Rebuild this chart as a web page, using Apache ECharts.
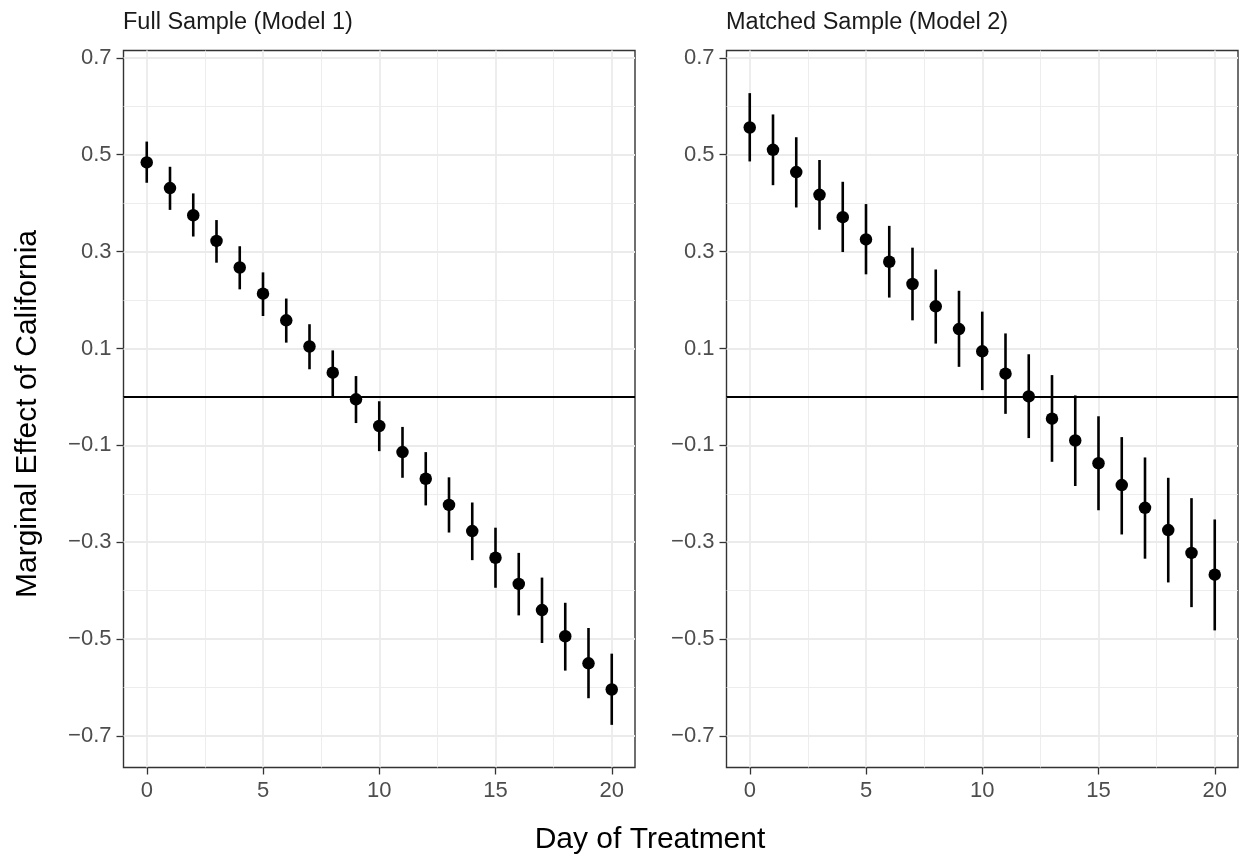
<!DOCTYPE html>
<html><head><meta charset="utf-8">
<script src="https://cdn.jsdelivr.net/npm/echarts@6/dist/echarts.min.js"></script>
<style>html,body{margin:0;padding:0;background:#fff}#c{width:1243px;height:861px}</style>
</head><body><div id="c"></div>
<script>
// ---- data ----
const days = [0,1,2,3,4,5,6,7,8,9,10,11,12,13,14,15,16,17,18,19,20];
const panelTitles = ['Full Sample (Model 1)', 'Matched Sample (Model 2)'];
const fullEst = [0.484,0.431,0.375,0.322,0.267,0.213,0.158,0.104,0.050,-0.005,-0.060,-0.114,-0.169,-0.223,-0.277,-0.332,-0.386,-0.440,-0.494,-0.550,-0.604];
const fullLo  = [0.442,0.386,0.331,0.277,0.222,0.167,0.112,0.057,0.000,-0.054,-0.112,-0.167,-0.224,-0.280,-0.337,-0.394,-0.451,-0.508,-0.565,-0.622,-0.677];
const fullHi  = [0.527,0.475,0.420,0.365,0.311,0.257,0.203,0.150,0.096,0.043,-0.009,-0.062,-0.114,-0.166,-0.218,-0.270,-0.322,-0.373,-0.425,-0.477,-0.530];
const matchEst = [0.556,0.510,0.464,0.417,0.371,0.325,0.279,0.233,0.187,0.140,0.094,0.048,0.001,-0.045,-0.090,-0.137,-0.182,-0.229,-0.275,-0.322,-0.367];
const matchLo  = [0.486,0.437,0.391,0.345,0.299,0.253,0.205,0.158,0.110,0.062,0.014,-0.035,-0.085,-0.134,-0.184,-0.234,-0.284,-0.334,-0.383,-0.434,-0.482];
const matchHi  = [0.627,0.583,0.536,0.489,0.444,0.398,0.353,0.308,0.263,0.219,0.176,0.131,0.088,0.045,0.003,-0.040,-0.083,-0.125,-0.167,-0.209,-0.253];
const xMajor = [0,5,10,15,20];
const xMinor = [2.5,7.5,12.5,17.5];
const yMajor = [-0.7,-0.5,-0.3,-0.1,0.1,0.3,0.5,0.7];
const yMinor = [-0.6,-0.4,-0.2,0,0.2,0.4,0.6];
const xRange = [-1, 21];
const yRange = [-0.765, 0.715];
const refLine = 0;

// ---- chart ----
const FONT = '"Liberation Sans", Arial, Helvetica, sans-serif';
const chart = echarts.init(document.getElementById('c'), null, {renderer:'canvas'});
const grids = [
  {left:123.5, top:50.5, width:511.5, height:717},
  {left:726.5, top:50.5, width:511.5, height:717}
];
function fmtY(v){ const s = Math.abs(v).toFixed(1); return v < 0 ? '\u2212' + s : s; }
const xAxes = [], yAxes = [];
grids.forEach((g, gi) => {
  xAxes.push({type:'value', gridIndex:gi, min:xRange[0], max:xRange[1], position:'bottom',
    axisLine:{show:false, onZero:false},
    axisTick:{show:true, inside:false, customValues:xMajor, length:7, lineStyle:{color:'#333333', width:1.3}},
    axisLabel:{show:true, customValues:xMajor, margin:12, fontSize:22, color:'#4D4D4D', fontFamily:FONT},
    splitLine:{show:true, lineStyle:{color:'#EBEBEB', width:1.8}}, z:2});
  xAxes.push({type:'value', gridIndex:gi, min:xRange[0], max:xRange[1], position:'bottom',
    axisLine:{show:false, onZero:false}, axisTick:{show:false, customValues:xMinor},
    axisLabel:{show:false, customValues:xMinor},
    splitLine:{show:true, lineStyle:{color:'#EBEBEB', width:0.9}}, z:1});
  yAxes.push({type:'value', gridIndex:gi, min:yRange[0], max:yRange[1], position:'left',
    axisLine:{show:false, onZero:false},
    axisTick:{show:true, inside:false, customValues:yMajor, length:7, lineStyle:{color:'#333333', width:1.3}},
    axisLabel:{show:true, customValues:yMajor, margin:12, fontSize:22, color:'#4D4D4D', fontFamily:FONT, formatter:fmtY},
    splitLine:{show:true, lineStyle:{color:'#EBEBEB', width:1.8}}, z:2});
  yAxes.push({type:'value', gridIndex:gi, min:yRange[0], max:yRange[1], position:'left',
    axisLine:{show:false, onZero:false}, axisTick:{show:false, customValues:yMinor},
    axisLabel:{show:false, customValues:yMinor},
    splitLine:{show:true, lineStyle:{color:'#EBEBEB', width:0.9}}, z:1});
});
function errRender(params, api){
  const x = api.value(0);
  const a = api.coord([x, api.value(1)]);
  const b = api.coord([x, api.value(2)]);
  return {type:'line', shape:{x1:a[0], y1:a[1], x2:b[0], y2:b[1]},
          style:{stroke:'#000', lineWidth:2.6}};
}
const panels = [[fullEst, fullLo, fullHi], [matchEst, matchLo, matchHi]];
const series = [];
panels.forEach((p, gi) => {
  const xi = gi*2, yi = gi*2;
  series.push({type:'line', xAxisIndex:xi, yAxisIndex:yi, data:[[xRange[0], refLine],[xRange[1], refLine]],
    symbol:'none', lineStyle:{color:'#000', width:2}, silent:true, z:3});
  series.push({type:'custom', xAxisIndex:xi, yAxisIndex:yi, renderItem:errRender,
    data: days.map((d,i)=>[d, p[1][i], p[2][i]]), encode:{x:0, y:[1,2]}, z:4, silent:true});
  series.push({type:'scatter', xAxisIndex:xi, yAxisIndex:yi, data: days.map((d,i)=>[d, p[0][i]]),
    symbol:'circle', symbolSize:12.5, itemStyle:{color:'#000', opacity:1}, z:5, silent:true});
});
chart.setOption({
  animation:false,
  backgroundColor:'#ffffff',
  title: panelTitles.map((t, i) => ({text:t, left: grids[i].left - 0.5, top:11, padding:0,
    textStyle:{fontSize:23.5, fontWeight:'normal', color:'#1A1A1A', fontFamily:FONT}})),
  grid: grids.map(g => Object.assign({show:true, borderColor:'#333333', borderWidth:1.4, backgroundColor:'#fff', containLabel:false}, g)),
  xAxis: xAxes,
  yAxis: yAxes,
  series: series,
  graphic: [
    {type:'text', x:28, y:414, rotation:Math.PI/2, z:10,
     style:{text:'Marginal Effect of California', font:'30px ' + FONT, fill:'#000', textAlign:'center', textVerticalAlign:'middle'}},
    {type:'text', x:650, y:840, z:10,
     style:{text:'Day of Treatment', font:'30px ' + FONT, fill:'#000', textAlign:'center', textVerticalAlign:'middle'}}
  ]
});
</script>
</body></html>
